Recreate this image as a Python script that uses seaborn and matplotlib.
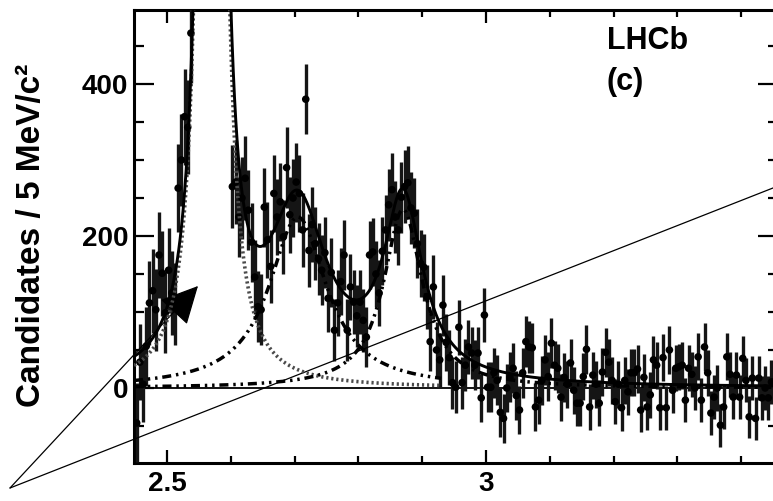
import numpy as np
import pandas as pd
import matplotlib
matplotlib.use("Agg")
import matplotlib.pyplot as plt
from matplotlib.ticker import MultipleLocator, FixedLocator
import seaborn as sns

# D+ K_S0 invariant mass spectrum, 5 MeV/c^2 bins starting at 2.450 GeV/c^2
bin_low_edge = 2.450
bin_width = 0.005

candidates = [
    -46, 34, 5, 55, 112, 128, 103, 175, 151, 99,
    155, 125, 110, 263, 300, 357, 343, 467, 610, 790,
    1180, 1900, 3400, 5550, 5700, 3480, 1950, 1130, 780, 610,
    265, 271, 225, 250, 276, 234, 192, 146, 107, 103,
    238, 195, 160, 256, 225, 245, 199, 290, 228, 250,
    271, 256, 208, 380, 181, 215, 190, 170, 155, 178,
    118, 152, 76, 112, 140, 175, 76, 133, 113, 95,
    113, 89, 67, 175, 179, 150, 125, 180, 208, 241,
    261, 225, 208, 251, 265, 270, 237, 230, 190, 164,
    159, 120, 61, 133, 50, 37, 109, 60, 40, 7,
    1, 80, 7, 30, 54, 46, 30, 46, -13, 96,
    1, 1, 20, 10, -32, -40, 0, 14, 26, -10,
    -29, 20, 61, 54, 53, -25, -16, 10, 37, 15,
    59, 30, 26, -12, 14, 5, 33, -3, -20, -20,
    15, 51, -25, 17, 5, -20, 21, 47, 34, 10,
    -18, 5, -26, 10, -5, 20, 20, 25, -29, 14,
    -25, -9, 37, 30, -26, 40, -26, 50, -3, 26,
    28, 30, -16, 26, 18, 0, 41, -16, 54, 20,
    -33, -12, 0, -49, -25, 41, 18, -12, 17, -12,
    39, 10, -38, 13, -40, 13, -13, 0, -13, 8,
]

candidate_errors = [
    52, 50, 50, 52, 55, 55, 54, 57, 56, 53,
    56, 55, 54, 58, 60, 63, 62, 66, 70, 78,
    88, 100, 120, 135, 135, 120, 100, 88, 78, 70,
    55, 55, 53, 54, 55, 53, 52, 49, 47, 47,
    52, 50, 48, 51, 50, 51, 49, 53, 50, 51,
    52, 51, 49, 46, 48, 49, 48, 47, 46, 47,
    44, 45, 41, 43, 44, 46, 41, 43, 42, 41,
    42, 41, 40, 45, 45, 44, 43, 45, 46, 47,
    48, 47, 46, 47, 48, 48, 47, 46, 45, 44,
    44, 42, 38, 42, 37, 36, 40, 37, 36, 34,
    34, 36, 34, 34, 35, 34, 33, 34, 32, 35,
    33, 33, 33, 33, 32, 32, 32, 33, 33, 32,
    32, 33, 34, 34, 33, 31, 31, 32, 33, 32,
    33, 32, 32, 31, 32, 31, 32, 31, 30, 30,
    31, 32, 30, 31, 31, 30, 31, 32, 31, 31,
    30, 31, 30, 31, 30, 31, 31, 31, 29, 31,
    30, 30, 31, 31, 29, 31, 29, 31, 30, 30,
    30, 31, 29, 30, 30, 29, 31, 29, 31, 30,
    29, 29, 30, 28, 29, 31, 30, 29, 30, 29,
    30, 29, 28, 29, 28, 29, 29, 29, 29, 29,
]

# Fitted resonances (Breit-Wigner): D_s2*(2573), D_s1*(2700), D_sJ*(2860)
resonance_names = ["Ds2(2573)", "Ds1(2700)", "DsJ(2860)"]
resonance_mass = [2.570, 2.705, 2.870]
resonance_width = [0.017, 0.110, 0.074]
resonance_height = [6100.0, 225.0, 235.0]
component_upper = [2.93, 2.93, 3.46]

x_low, x_high = 2.4483, 3.4577
y_low, y_high = -98.7, 497.4

sns.set_theme(style="ticks")
plt.rcParams["font.family"] = ["Liberation Sans", "DejaVu Sans"]
plt.rcParams["font.weight"] = "bold"

W, H = 773, 501
fig = plt.figure(figsize=(W / 100, H / 100), dpi=100)
ax = fig.add_axes([134 / W, (H - 463) / H, (778 - 134) / W, (463 - 10) / H])


def breit_wigner(m, m0, width, height):
    g2 = (width / 2.0) ** 2
    return height * g2 / ((m - m0) ** 2 + g2)


mass = bin_low_edge + bin_width * (np.arange(len(candidates)) + 0.5)
data = pd.DataFrame({"mass": mass,
                     "candidates": np.asarray(candidates, float),
                     "err": np.asarray(candidate_errors, float)})

# horizontal reference at zero
ax.axhline(0, color="black", lw=1.3, zorder=1)

# data points with vertical error bars
ax.vlines(data["mass"], data["candidates"] - data["err"],
          data["candidates"] + data["err"], color="#151515", lw=2.4, zorder=3)
sns.scatterplot(data=data, x="mass", y="candidates", ax=ax, color="black",
                s=30, edgecolor="none", zorder=4, legend=False)

# fit components and total
grid = np.linspace(x_low, x_high, 2500)
total = np.zeros_like(grid)
comp_styles = [
    dict(color="#4a4a4a", lw=2.6, dashes=(0.6, 0.8)),
    dict(color="black", lw=2.5, dashes=(2.6, 1.4, 0.7, 1.4, 0.7, 1.4)),
    dict(color="black", lw=2.5, dashes=(2.6, 1.4, 0.7, 1.4, 0.7, 1.4)),
]
for m0, w, h, upper, style in zip(resonance_mass, resonance_width,
                                  resonance_height, component_upper, comp_styles):
    y = breit_wigner(grid, m0, w, h)
    total += y
    sel = grid <= upper
    comp = pd.DataFrame({"mass": grid[sel], "value": y[sel]})
    sns.lineplot(data=comp, x="mass", y="value", ax=ax, color=style["color"],
                 lw=style["lw"], estimator=None, sort=False, zorder=5)
    ax.lines[-1].set_dashes(style["dashes"])

fit = pd.DataFrame({"mass": grid, "value": total})
sns.lineplot(data=fit, x="mass", y="value", ax=ax, color="black", lw=2.1,
             estimator=None, sort=False, zorder=6)

ax.set_xlim(x_low, x_high)
ax.set_ylim(y_low, y_high)

ax.xaxis.set_major_locator(FixedLocator([2.5, 3.0]))
ax.set_xticklabels(["2.5", "3"])
ax.xaxis.set_minor_locator(MultipleLocator(0.1))
ax.yaxis.set_major_locator(FixedLocator([0, 200, 400]))
ax.set_yticklabels(["0", "200", "400"])
ax.yaxis.set_minor_locator(MultipleLocator(50))

ax.tick_params(axis="both", which="both", direction="in", top=True, right=True,
               width=1.6, color="black", labelsize=20, labelcolor="black")
ax.tick_params(axis="x", which="major", length=9.5, pad=6)
ax.tick_params(axis="x", which="minor", length=5)
ax.tick_params(axis="y", which="major", length=14.5, pad=4)
ax.tick_params(axis="y", which="minor", length=7.5)
for lab in ax.get_xticklabels() + ax.get_yticklabels():
    lab.set_fontweight("bold")

for sp in ax.spines.values():
    sp.set_linewidth(2.2)
    sp.set_color("black")
    sp.set_visible(True)

ax.set_xlabel("")
ax.set_ylabel("")
fig.text(32 / W, 1 - 235 / H, "Candidates / 5 MeV/c²", rotation=90,
         ha="center", va="center", fontsize=24, fontweight="bold", color="black")

fig.text(607 / W, 1 - 26 / H, "LHCb", ha="left", va="top",
         fontsize=22, fontweight="bold", color="black")
fig.text(607 / W, 1 - 67 / H, "(c)", ha="left", va="top",
         fontsize=22, fontweight="bold", color="black")

# annotation strokes drawn across the figure
ax.annotate("", xy=(198, H - 286), xytext=(10, H - 488),
            xycoords="figure pixels", textcoords="figure pixels",
            annotation_clip=False,
            arrowprops=dict(arrowstyle="-|>,head_length=1.2,head_width=0.6",
                            mutation_scale=20, lw=0.9, color="black",
                            shrinkA=0, shrinkB=0))
ax.annotate("", xy=(790, H - 181.3), xytext=(10, H - 488),
            xycoords="figure pixels", textcoords="figure pixels",
            annotation_clip=False,
            arrowprops=dict(arrowstyle="-", lw=0.9, color="black",
                            shrinkA=0, shrinkB=0))

fig.savefig("out.png", dpi=100)
